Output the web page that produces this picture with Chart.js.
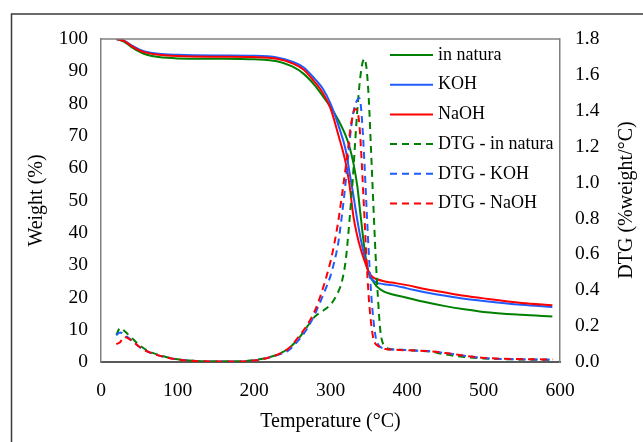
<!DOCTYPE html>
<html>
<head>
<meta charset="utf-8">
<script src="https://cdn.jsdelivr.net/npm/chart.js@4"></script>
<style>
  html, body { margin: 0; padding: 0; background: #fff; }
  #wrap { width: 643px; height: 442px; }
</style>
</head>
<body>
<div id="wrap"><canvas id="tgChart" width="643" height="442"></canvas></div>
<script>
// TG curves (weight %)
const tgTemp = [20, 30, 40, 50, 60, 75, 100, 150, 200, 230, 250, 265, 280, 290, 300, 310, 320, 325, 330, 335, 340, 345, 350, 355, 360, 370, 380, 400, 425, 450, 475, 500, 550, 590];
const tgNatura = [100, 99.2, 97.5, 96.1, 95.1, 94.4, 94.0, 93.9, 93.7, 93.1, 91.5, 89.2, 85.5, 82.3, 79.0, 75.0, 70.0, 66.5, 61.5, 54.5, 44.0, 34.0, 27.5, 25.2, 23.5, 21.8, 21.0, 19.9, 18.5, 17.3, 16.3, 15.5, 14.6, 14.1];
const tgKOH = [100, 99.5, 98.0, 96.8, 96.0, 95.4, 95.1, 94.9, 94.8, 94.3, 93.0, 91.2, 87.5, 84.6, 80.0, 73.5, 65.5, 58.5, 51.5, 44.0, 37.5, 32.2, 27.8, 25.4, 24.6, 24.1, 23.8, 22.8, 21.5, 20.5, 19.6, 18.9, 17.7, 17.0];
const tgNaOH = [100, 99.4, 97.8, 96.5, 95.7, 95.1, 94.7, 94.5, 94.4, 93.9, 92.5, 90.5, 86.5, 83.3, 78.5, 70.5, 61.5, 54.5, 45.0, 39.0, 34.5, 31.0, 27.8, 26.3, 25.7, 25.0, 24.6, 23.8, 22.5, 21.5, 20.5, 19.7, 18.3, 17.6];

// DTG curves (%weight/°C)
const dtgTemp = [20, 25, 30, 40, 50, 60, 75, 100, 125, 150, 175, 200, 215, 230, 245, 260, 270, 280, 290, 300, 305, 310, 315, 320, 323, 326, 329, 332, 335, 338, 341, 344, 347, 350, 353, 356, 359, 362, 365, 368, 372, 378, 390, 410, 430, 450, 475, 500, 550, 590];
const dtgNatura = [0.15, 0.19, 0.175, 0.135, 0.095, 0.065, 0.04, 0.015, 0.006, 0.004, 0.004, 0.01, 0.022, 0.04, 0.075, 0.14, 0.2, 0.255, 0.285, 0.32, 0.35, 0.39, 0.45, 0.57, 0.7, 0.85, 1.01, 1.21, 1.4, 1.55, 1.65, 1.69, 1.64, 1.47, 1.18, 0.88, 0.59, 0.36, 0.18, 0.11, 0.085, 0.072, 0.068, 0.064, 0.058, 0.042, 0.028, 0.02, 0.014, 0.012];
const dtgKOH = [0.15, 0.165, 0.155, 0.12, 0.085, 0.06, 0.037, 0.014, 0.005, 0.003, 0.003, 0.008, 0.02, 0.038, 0.065, 0.13, 0.19, 0.27, 0.37, 0.48, 0.56, 0.66, 0.82, 1.01, 1.14, 1.27, 1.37, 1.43, 1.46, 1.47, 1.36, 1.14, 0.87, 0.61, 0.39, 0.24, 0.14, 0.1, 0.085, 0.078, 0.072, 0.07, 0.068, 0.064, 0.06, 0.05, 0.035, 0.022, 0.015, 0.013];
const dtgNaOH = [0.10, 0.11, 0.14, 0.12, 0.085, 0.06, 0.037, 0.014, 0.005, 0.003, 0.003, 0.008, 0.02, 0.04, 0.075, 0.15, 0.21, 0.29, 0.41, 0.56, 0.66, 0.78, 0.93, 1.09, 1.19, 1.3, 1.37, 1.41, 1.40, 1.31, 1.1, 0.84, 0.58, 0.36, 0.22, 0.13, 0.1, 0.09, 0.082, 0.078, 0.072, 0.07, 0.067, 0.064, 0.06, 0.05, 0.035, 0.023, 0.016, 0.014];

const xTicks = [0, 100, 200, 300, 400, 500, 600];
const weightTicks = [0, 10, 20, 30, 40, 50, 60, 70, 80, 90, 100];
const dtgTicks = [0, 0.2, 0.4, 0.6, 0.8, 1.0, 1.2, 1.4, 1.6, 1.8];

const GREEN = "#008000";
const BLUE = "#1f5bff";
const RED = "#ff0000";
const FONT = "'Liberation Serif', 'Times New Roman', serif";

function pts(xs, ys) {
  return xs.map((x, i) => ({ x: x, y: ys[i] }));
}

function series(label, xs, ys, color, axis, dashed, idx) {
  return {
    label: label,
    data: pts(xs, ys),
    borderColor: color,
    backgroundColor: color,
    borderWidth: 2,
    borderDash: dashed ? [7, 5] : [],
    pointRadius: 0,
    cubicInterpolationMode: "monotone",
    yAxisID: axis,
    order: 5 - idx
  };
}

// frame, legend inside plot and the right-hand title
const extras = {
  id: "extras",
  afterDraw(chart) {
    const ctx = chart.ctx;
    const a = chart.chartArea;
    ctx.save();

    // outer border of the figure
    ctx.strokeStyle = "#3a3a3a";
    ctx.lineWidth = 1.5;
    ctx.beginPath();
    ctx.moveTo(11.5, 442);
    ctx.lineTo(11.5, 14);
    ctx.lineTo(643, 14);
    ctx.stroke();

    // top edge of plot box
    ctx.strokeStyle = "#808080";
    ctx.lineWidth = 1.5;
    ctx.beginPath();
    ctx.moveTo(a.left, a.top);
    ctx.lineTo(a.right, a.top);
    ctx.stroke();

    // legend
    ctx.font = "18px " + FONT;
    ctx.fillStyle = "#000";
    ctx.textBaseline = "middle";
    ctx.textAlign = "left";
    chart.data.datasets.forEach((ds, i) => {
      const y = 55 + i * 29.7;
      ctx.strokeStyle = ds.borderColor;
      ctx.lineWidth = 2;
      ctx.setLineDash(ds.borderDash);
      ctx.beginPath();
      ctx.moveTo(390, y);
      ctx.lineTo(433, y);
      ctx.stroke();
      ctx.setLineDash([]);
      ctx.fillText(ds.label, 438, y);
    });

    // right axis title, reading upwards
    ctx.translate(627, 200);
    ctx.rotate(-Math.PI / 2);
    ctx.font = "20px " + FONT;
    ctx.textAlign = "center";
    ctx.fillText("DTG (%weight/°C)", 0, 0);
    ctx.restore();
  }
};

new Chart(document.getElementById("tgChart"), {
  type: "line",
  data: {
    datasets: [
      series("in natura", tgTemp, tgNatura, GREEN, "y", false, 0),
      series("KOH", tgTemp, tgKOH, BLUE, "y", false, 1),
      series("NaOH", tgTemp, tgNaOH, RED, "y", false, 2),
      series("DTG - in natura", dtgTemp, dtgNatura, GREEN, "y2", true, 3),
      series("DTG - KOH", dtgTemp, dtgKOH, BLUE, "y2", true, 4),
      series("DTG - NaOH", dtgTemp, dtgNaOH, RED, "y2", true, 5)
    ]
  },
  options: {
    responsive: false,
    animation: false,
    devicePixelRatio: 1,
    layout: { padding: { top: 39, left: 0, right: 0, bottom: 0 } },
    plugins: {
      legend: { display: false },
      tooltip: { enabled: false }
    },
    scales: {
      x: {
        type: "linear",
        min: 0,
        max: 600,
        afterBuildTicks: (s) => { s.ticks = xTicks.map(v => ({ value: v })); },
        afterFit: (s) => { s.height = 80; },
        grid: { display: false, drawTicks: false },
        border: { display: true, color: "#595959", width: 2 },
        ticks: { color: "#000", padding: 17, font: { family: FONT, size: 19.5 } },
        title: {
          display: true,
          text: "Temperature (°C)",
          color: "#000",
          font: { family: FONT, size: 20 },
          padding: { top: 0, bottom: 8 }
        }
      },
      y: {
        position: "left",
        min: 0,
        max: 100,
        afterBuildTicks: (s) => { s.ticks = weightTicks.map(v => ({ value: v })); },
        afterFit: (s) => { s.width = 101; },
        grid: { display: false, drawTicks: false },
        border: { display: true, color: "#808080", width: 1.5 },
        ticks: { color: "#000", padding: 13, font: { family: FONT, size: 19.5 } },
        title: {
          display: true,
          text: "Weight (%)",
          color: "#000",
          font: { family: FONT, size: 20 },
          padding: { top: 25, bottom: 0 }
        }
      },
      y2: {
        position: "right",
        min: 0,
        max: 1.8,
        afterBuildTicks: (s) => { s.ticks = dtgTicks.map(v => ({ value: v })); },
        afterFit: (s) => { s.width = 83; },
        grid: { display: false, drawTicks: false },
        border: { display: true, color: "#808080", width: 1.5 },
        ticks: {
          color: "#000",
          padding: 15,
          font: { family: FONT, size: 19.5 },
          callback: (v) => Number(v).toFixed(1)
        }
      }
    }
  },
  plugins: [extras]
});
</script>
</body>
</html>
